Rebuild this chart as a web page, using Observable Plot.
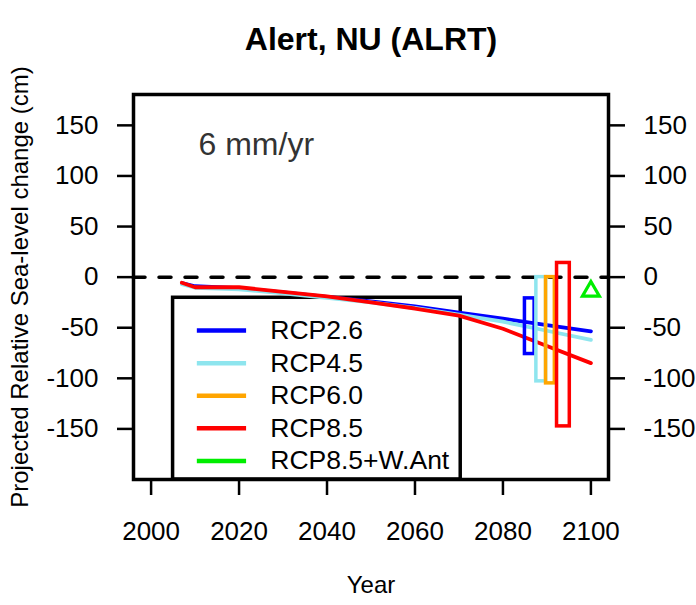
<!DOCTYPE html>
<html><head><meta charset="utf-8">
<script src="https://cdn.jsdelivr.net/npm/d3@7"></script>
<script src="https://cdn.jsdelivr.net/npm/@observablehq/plot@0.6"></script>
<style>body{margin:0;background:#fff}</style>
</head><body><div id="chart"></div>
<script>
// ---- data ----
const years = [2007, 2010, 2020, 2030, 2040, 2050, 2060, 2070, 2080, 2090, 2100];
const rcp26 = [-6, -9, -11, -15, -19.5, -24, -29, -35, -41, -47.5, -53.5];
const rcp45 = [-7, -10.5, -12, -16, -20.5, -25, -30.5, -37, -44, -53, -62];
const rcp85 = [-5.5, -10, -10, -14.5, -19, -25, -31, -38, -51, -68, -85];
const scenarios = ["RCP2.6", "RCP4.5", "RCP6.0", "RCP8.5", "RCP8.5+W.Ant"];
const colors = ["#0000FF", "#8EE5EE", "#FFA500", "#FF0000", "#00EE00"];
const barScen = ["RCP2.6", "RCP4.5", "RCP6.0", "RCP8.5"];
const barStart = [2085, 2087.6, 2089.8, 2092.3];
const barEnd = [2087.2, 2089.8, 2091.8, 2095.2];
const barLow = [-76, -103, -105, -147.5];
const barHigh = [-21, 0, 0, 14];
const wAntYear = [2100];
const wAntValue = [-14];
const rateLabel = "6 mm/yr";
const titleText = "Alert, NU (ALRT)";
const xLabel = "Year";
const yLabel = "Projected Relative Sea-level change (cm)";
const xTicks = [2000, 2020, 2040, 2060, 2080, 2100];
const yTicks = [-150, -100, -50, 0, 50, 100, 150];

const colorOf = s => colors[scenarios.indexOf(s)];
const series = (vals) => years.map((y, i) => ({year: y, value: vals[i]}));
const bars = barScen.map((s, i) => ({s, x1: barStart[i], x2: barEnd[i], y1: barLow[i], y2: barHigh[i]}));
const legendItems = scenarios.map((s, i) => ({s, i}));
const legY = i => -52.8 - i * 32.2;
const FONT = "Liberation Sans, Arial, Helvetica, sans-serif";

const chart = Plot.plot({
  width: 696, height: 605,
  marginLeft: 133, marginRight: 88, marginTop: 94, marginBottom: 126,
  style: {fontFamily: FONT, background: "white", color: "black"},
  x: {domain: [1996, 2104]},
  y: {domain: [-200, 180.5]},
  marks: [
    // legend box
    Plot.rect([0], {x1: () => 2005, x2: () => 2070.4, y1: () => -20.4, y2: () => -200, fill: "none", stroke: "black", strokeWidth: 3.5}),
    Plot.ruleY([0], {stroke: "black", strokeWidth: 3.5, strokeDasharray: "12,14", strokeLinecap: "round"}),
    Plot.line(series(rcp26), {x: "year", y: "value", stroke: colorOf("RCP2.6"), strokeWidth: 3.8}),
    Plot.line(series(rcp45), {x: "year", y: "value", stroke: colorOf("RCP4.5"), strokeWidth: 3.8}),
    Plot.line(series(rcp85), {x: "year", y: "value", stroke: colorOf("RCP8.5"), strokeWidth: 3.8}),
    Plot.rect(bars, {x1: "x1", x2: "x2", y1: "y1", y2: "y2", fill: "none", stroke: d => colorOf(d.s), strokeWidth: 3.5}),
    Plot.dot(wAntYear.map((y, i) => ({year: y, value: wAntValue[i]})), {x: "year", y: "value", symbol: "triangle", r: 6.3, stroke: colorOf("RCP8.5+W.Ant"), strokeWidth: 3.2, fill: "none"}),
    // legend entries
    Plot.link(legendItems, {x1: () => 2010.4, x2: () => 2021.6, y1: d => legY(d.i), y2: d => legY(d.i), stroke: d => colorOf(d.s), strokeWidth: 4.5}),
    Plot.text(legendItems, {x: () => 2027.1, y: d => legY(d.i), text: "s", textAnchor: "start", fontSize: 26.5, fill: "black"}),
    // rate label
    Plot.text([rateLabel], {frameAnchor: "top-left", dx: 65, dy: 38, textAnchor: "start", fontSize: 32, fill: "#333"}),
    // axes
    Plot.axisX({ticks: xTicks, tickFormat: d => String(d), tickSize: 16, tickPadding: 26, fontSize: 26, strokeWidth: 2.5, label: null}),
    Plot.axisY({ticks: yTicks, tickFormat: d => String(d), anchor: "left", tickSize: 16, tickPadding: 19, fontSize: 26, strokeWidth: 2.5, label: null}),
    Plot.axisY({ticks: yTicks, tickFormat: d => String(d), anchor: "right", tickSize: 16, tickPadding: 19, fontSize: 26, strokeWidth: 2.5, label: null}),
    Plot.frame({stroke: "black", strokeWidth: 3.5}),
    // titles
    Plot.text([titleText], {frameAnchor: "top", dy: -67, fontSize: 32, fontWeight: "bold", fill: "black"}),
    Plot.text([xLabel], {frameAnchor: "bottom", dy: 113, fontSize: 24, fill: "black"}),
    Plot.text([yLabel], {frameAnchor: "left", dx: -113, rotate: -90, textAnchor: "middle", fontSize: 24, fill: "black"})
  ]
});
document.getElementById("chart").appendChild(chart);
</script>
</body></html>
